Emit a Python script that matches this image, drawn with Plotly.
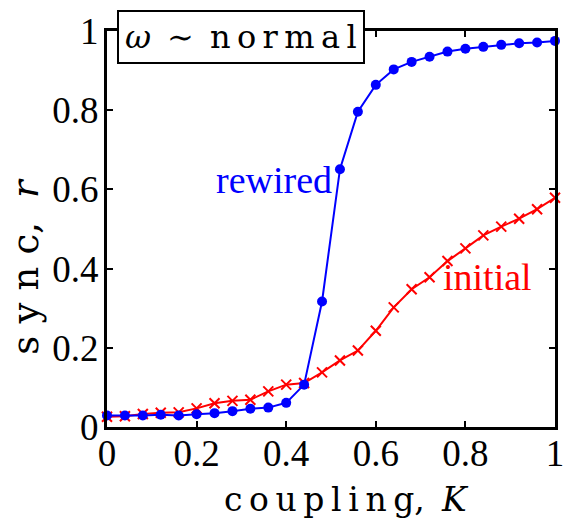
import plotly.graph_objects as go

K = [round(0.04 * i, 2) for i in range(26)]
rewired = [0.029, 0.029, 0.029, 0.031, 0.029, 0.032, 0.035, 0.040, 0.046, 0.049,
           0.061, 0.107, 0.317, 0.651, 0.796, 0.864, 0.903, 0.922, 0.935, 0.948,
           0.955, 0.960, 0.965, 0.969, 0.971, 0.975]
initial = [0.026, 0.027, 0.033, 0.036, 0.037, 0.047, 0.060, 0.066, 0.069, 0.090,
           0.107, 0.111, 0.138, 0.168, 0.193, 0.243, 0.302, 0.348, 0.378, 0.419,
           0.451, 0.484, 0.506, 0.526, 0.550, 0.579]
tick_vals = [0, 0.2, 0.4, 0.6, 0.8, 1]
tick_text = ["0", "0.2", "0.4", "0.6", "0.8", "1"]

SERIF = "Liberation Serif"
CM = "DejaVu Serif"

fig = go.Figure()
fig.add_trace(go.Scatter(x=K, y=initial, mode="lines+markers",
                         line=dict(color="#ff0000", width=2),
                         marker=dict(symbol="x-thin", size=10, line=dict(color="#ff0000", width=2)),
                         showlegend=False, cliponaxis=False))
fig.add_trace(go.Scatter(x=K, y=rewired, mode="lines+markers",
                         line=dict(color="#0000ff", width=2),
                         marker=dict(symbol="circle", size=10, color="#0000ff"),
                         showlegend=False, cliponaxis=False))

axis_common = dict(range=[0, 1], tickvals=tick_vals, ticktext=tick_text,
                   ticks="inside", ticklen=6, tickwidth=2, tickcolor="black",
                   showline=True, linecolor="black", linewidth=3, mirror="ticks",
                   showgrid=False, zeroline=False, automargin=False,
                   tickfont=dict(family=SERIF, size=37, color="black"))
fig.update_xaxes(**axis_common)
fig.update_yaxes(**axis_common)
try:
    fig.update_xaxes(ticklabelstandoff=-8)
    fig.update_yaxes(ticklabelstandoff=-2)
except Exception:
    pass

fig.add_annotation(x=0.507, y=0.566, xref="x", yref="y", text="rewired", showarrow=False,
                   xanchor="right", yanchor="bottom",
                   font=dict(family=SERIF, size=38, color="#0000ff"))
fig.add_annotation(x=0.745, y=0.32, xref="x", yref="y", text="initial", showarrow=False,
                   xanchor="left", yanchor="bottom",
                   font=dict(family=SERIF, size=38, color="#ff0000"))
fig.add_annotation(x=0.022, y=1.053, xref="paper", yref="paper",
                   text="<i>ω</i>\u2002∼\u2002n\u2009o\u2009r\u2009m\u2009a\u2009l", showarrow=False,
                   xanchor="left", yanchor="top", bgcolor="white",
                   bordercolor="black", borderwidth=2, borderpad=6,
                   font=dict(family=CM, size=32, color="black"))
fig.add_annotation(x=0.535, y=-0.184, xref="paper", yref="paper",
                   text="c\u2009o\u2009u\u2009p\u2009l\u2009i\u2009n\u2009g,\u2009 <i>K</i>", showarrow=False,
                   xanchor="center", yanchor="middle",
                   font=dict(family=CM, size=33, color="black"))
fig.add_annotation(x=-0.181, y=0.407, xref="paper", yref="paper",
                   text="s\u2004y\u2004n\u2004c,\u2004 <i>r</i>", showarrow=False, textangle=-90,
                   xanchor="center", yanchor="middle",
                   font=dict(family=CM, size=37, color="black"))

fig.update_layout(width=565, height=525, margin=dict(l=107, r=10, t=31, b=98),
                  plot_bgcolor="white", paper_bgcolor="white")
fig.write_html("out.html")
